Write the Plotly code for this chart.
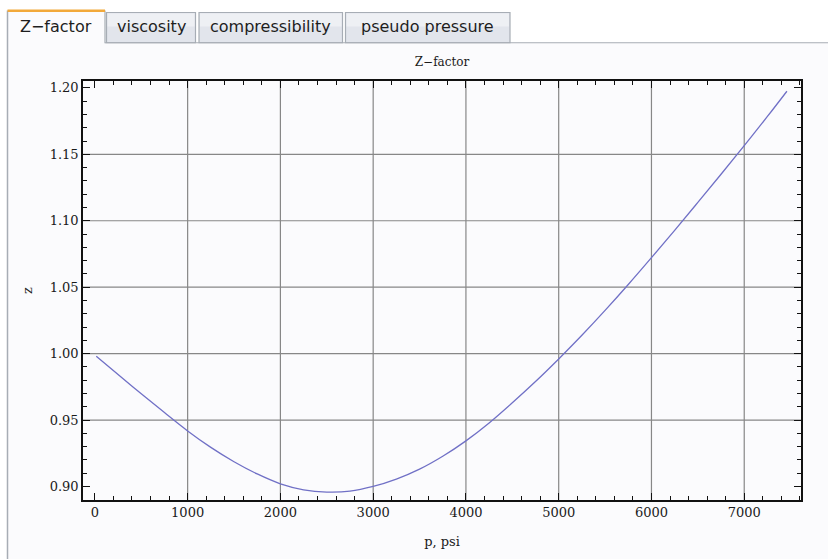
import plotly.graph_objects as go

# Gas compressibility factor vs pressure
pressure = [15, 250, 500, 750, 1000, 1250, 1500, 1750, 2000, 2250, 2500, 2750,
            3000, 3250, 3500, 3750, 4000, 4250, 4500, 4750, 5000, 5250, 5500,
            5750, 6000, 6250, 6500, 6750, 7000, 7250, 7460]
z_factor = [0.9980, 0.9842, 0.9698, 0.9556, 0.9418, 0.9294, 0.9186, 0.9094,
            0.9020, 0.8975, 0.8958, 0.8965, 0.9000, 0.9055, 0.9130, 0.9227,
            0.9343, 0.9478, 0.9630, 0.9790, 0.9960, 1.0138, 1.0325, 1.0520,
            1.0722, 1.0928, 1.1138, 1.1350, 1.1565, 1.1785, 1.1975]

x_gridlines = [1000, 2000, 3000, 4000, 5000, 6000, 7000]
y_gridlines = [0.95, 1.00, 1.05, 1.10, 1.15]
tab_labels = ["Z\u2212factor", "viscosity", "compressibility", "pseudo pressure"]

W, H = 828, 559
L, R, T, B = 83, 27, 81, 56
PW, PH = W - L - R, H - T - B


def px(x):
    return (x - L) / PW


def py(y):
    return (H - B - y) / PH


fig = go.Figure()
fig.add_trace(go.Scatter(
    x=pressure, y=z_factor, mode="lines",
    line=dict(color="#7070c6", width=1.3, shape="spline", smoothing=1.0),
    hoverinfo="skip", showlegend=False,
))

shapes = []
# tab panel background and border
panel_bg = "#fbfbfd"
border = "#a7adb5"
shapes.append(dict(type="rect", xref="paper", yref="paper", layer="below",
                   x0=px(7.5), x1=px(W + 5), y0=py(H + 5), y1=py(42.5),
                   fillcolor=panel_bg, line=dict(width=0)))
shapes.append(dict(type="line", xref="paper", yref="paper",
                   x0=px(7.5), x1=px(7.5), y0=py(H + 5), y1=py(10),
                   line=dict(color=border, width=1.5)))
shapes.append(dict(type="line", xref="paper", yref="paper",
                   x0=px(105), x1=px(W + 5), y0=py(42.5), y1=py(42.5),
                   line=dict(color=border, width=1.2)))

# tab headers
tab_spans = [(7.5, 105), (106.5, 195.5), (199, 342.5), (345.5, 510)]
annotations = []
for i, (label, (a, b)) in enumerate(zip(tab_labels, tab_spans)):
    if i == 0:
        shapes.append(dict(type="rect", xref="paper", yref="paper", layer="below",
                           x0=px(a), x1=px(b), y0=py(43), y1=py(9.5),
                           fillcolor=panel_bg, line=dict(width=0)))
        shapes.append(dict(type="line", xref="paper", yref="paper",
                           x0=px(b), x1=px(b), y0=py(43), y1=py(10),
                           line=dict(color=border, width=1.2)))
        shapes.append(dict(type="rect", xref="paper", yref="paper",
                           x0=px(a), x1=px(b), y0=py(11.5), y1=py(9),
                           fillcolor="#f2a93b", line=dict(width=0)))
    else:
        shapes.append(dict(type="rect", xref="paper", yref="paper", layer="below",
                           x0=px(a), x1=px(b), y0=py(42.5), y1=py(12),
                           fillcolor="#e2e5ec", line=dict(color=border, width=1.2)))
        shapes.append(dict(type="rect", xref="paper", yref="paper", layer="below",
                           x0=px(a + 1), x1=px(b - 1), y0=py(26), y1=py(13),
                           fillcolor="#eef0f4", line=dict(width=0)))
    annotations.append(dict(
        text=label, xref="paper", yref="paper", showarrow=False,
        x=px((a + b) / 2), y=py(26.5), xanchor="center", yanchor="middle",
        font=dict(family="DejaVu Sans", size=16, color="#1e1e1e"),
    ))

# grid lines inside the frame
for gx in x_gridlines:
    shapes.append(dict(type="line", xref="x", yref="paper", layer="below",
                       x0=gx, x1=gx, y0=0, y1=1,
                       line=dict(color="#878787", width=1.2)))
for gy in y_gridlines:
    shapes.append(dict(type="line", xref="paper", yref="y", layer="below",
                       x0=0, x1=1, y0=gy, y1=gy,
                       line=dict(color="#878787", width=1.2)))

tick_font = dict(family="DejaVu Serif", size=13, color="#1a1a1a")

fig.update_layout(
    width=W, height=H,
    margin=dict(l=L, r=R, t=T, b=B),
    paper_bgcolor="white",
    plot_bgcolor="rgba(0,0,0,0)",
    shapes=shapes,
    annotations=annotations,
    title=dict(text="Z\u2212factor", x=px((L + W - R) / 2), xref="paper",
               xanchor="center", y=1 - 62 / H, yref="container", yanchor="middle",
               font=dict(family="DejaVu Serif", size=12, color="#1a1a1a")),
    xaxis=dict(
        range=[-128, 7612], showgrid=False, zeroline=False,
        showline=True, linecolor="#111111", linewidth=1.5, mirror="allticks",
        ticks="inside", ticklen=7, tickwidth=1.2, tickcolor="#111111",
        tick0=0, dtick=1000, tickfont=tick_font,
        minor=dict(dtick=200, ticks="inside", ticklen=4, tickwidth=1.2,
                   tickcolor="#111111", showgrid=False),
        title=dict(text="p, psi", standoff=18,
                   font=dict(family="DejaVu Serif", size=13, color="#1a1a1a")),
    ),
    yaxis=dict(
        range=[0.8898, 1.2052], showgrid=False, zeroline=False,
        showline=True, linecolor="#111111", linewidth=1.5, mirror="allticks",
        ticks="inside", ticklen=7, tickwidth=1.2, tickcolor="#111111",
        tick0=0.9, dtick=0.05, tickformat=".2f", tickfont=tick_font,
        minor=dict(dtick=0.01, ticks="inside", ticklen=4, tickwidth=1.2,
                   tickcolor="#111111", showgrid=False),
        title=dict(text="z", standoff=14,
                   font=dict(family="DejaVu Serif", size=13, color="#1a1a1a")),
    ),
)

fig.write_html("out.html")
